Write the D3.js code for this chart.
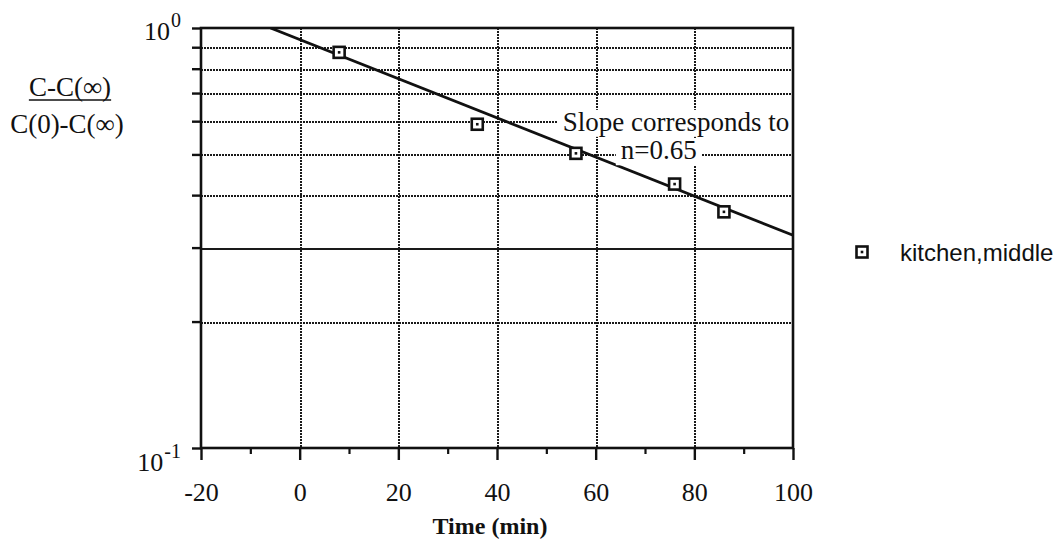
<!DOCTYPE html>
<html>
<head>
<meta charset="utf-8">
<script src="https://cdn.jsdelivr.net/npm/d3@7"></script>
<style>
  html, body { margin: 0; padding: 0; background: #fff; }
  svg { display: block; }
  .serif { font-family: "Liberation Serif", "Times New Roman", serif; fill: #111; }
  .sans { font-family: "Liberation Sans", Arial, sans-serif; fill: #111; }
</style>
</head>
<body>
<svg id="chart" width="1063" height="540"></svg>
<script>
// Measured decay of the normalised concentration, kitchen (middle position)
const time = [8, 36, 56, 76, 86];                 // min
const ratio = [0.875, 0.59, 0.503, 0.425, 0.365]; // (C - C(inf)) / (C(0) - C(inf))

// Fitted exponential decay (straight line on the log axis)
const fitTime = [-5.9, 100];
const fitRatio = [1.0, 0.321];

// Axis ticks
const xTicks = [-20, 0, 20, 40, 60, 80, 100];
const xMinorTicks = [-10, 10, 30, 50, 70, 90];
const yGridValues = [0.2, 0.3, 0.4, 0.5, 0.6, 0.7, 0.8, 0.9];
const yDecades = [0.1, 1];
const yDecadeExponents = ["-1", "0"];

const seriesName = "kitchen,middle";
const noteLines = ["Slope corresponds to", "n=0.65"];
const noteTime = [76.3, 72.8];
const noteRatio = [0.569, 0.487];

const svg = d3.select("#chart");
const x = d3.scaleLinear().domain([-20, 100]).range([201, 793]);
const y = d3.scaleLog().domain([0.1, 1]).range([448, 28]);
const [x0, x1] = x.range();
const [yBot, yTop] = y.range();

// Horizontal grid lines (dotted, except the solid 0.3 line)
const grid = svg.append("g").attr("shape-rendering", "crispEdges");
grid.selectAll("line.h").data(yGridValues).join("line")
  .attr("x1", x0).attr("x2", x1)
  .attr("y1", d => Math.round(y(d)) + 0.5).attr("y2", d => Math.round(y(d)) + 0.5)
  .attr("stroke", "#1a1a1a")
  .attr("stroke-width", 2)
  .attr("stroke-dasharray", d => d === 0.3 ? null : "2,1");

// Vertical grid lines
grid.selectAll("line.v").data(xTicks.slice(1, -1)).join("line")
  .attr("x1", d => Math.round(x(d)) + 0.5).attr("x2", d => Math.round(x(d)) + 0.5)
  .attr("y1", yTop).attr("y2", yBot)
  .attr("stroke", "#1a1a1a")
  .attr("stroke-width", 2)
  .attr("stroke-dasharray", "2,1");

// Bottom axis with major and minor ticks
const xAxis = svg.append("g").attr("transform", `translate(0,${yBot})`)
  .call(d3.axisBottom(x).tickValues(xTicks).tickSize(12).tickFormat(d => String(d)));
xAxis.select(".domain").remove();
xAxis.selectAll(".tick line").attr("stroke", "#111").attr("stroke-width", 2.4);
xAxis.selectAll(".tick text")
  .attr("class", "serif")
  .attr("y", 53).attr("dy", 0)
  .style("font-size", "26px")
  .attr("fill", "#111");

const xMinor = svg.append("g").attr("transform", `translate(0,${yBot})`)
  .call(d3.axisBottom(x).tickValues(xMinorTicks).tickSize(6).tickFormat(""));
xMinor.select(".domain").remove();
xMinor.selectAll(".tick line").attr("stroke", "#111").attr("stroke-width", 2.2);

// Left axis ticks
const yAxis = svg.append("g").attr("transform", `translate(${x0},0)`)
  .call(d3.axisLeft(y).tickValues(yGridValues.concat(yDecades)).tickSize(9).tickFormat(""));
yAxis.select(".domain").remove();
yAxis.selectAll(".tick line").attr("stroke", "#111").attr("stroke-width", 2.4);

// Decade labels 10^n
yDecades.forEach((v, i) => {
  const t = svg.append("text").attr("class", "serif")
    .attr("x", 181).attr("y", y(v) + (v === 1 ? 12 : 23))
    .attr("text-anchor", "end")
    .style("font-size", "26px");
  t.append("tspan").text("10");
  t.append("tspan").text(yDecadeExponents[i])
    .attr("dx", 1).attr("dy", -13).style("font-size", "20px");
});

// Fitted line
svg.append("defs").append("clipPath").attr("id", "plotClip")
  .append("rect").attr("x", x0).attr("y", yTop)
  .attr("width", x1 - x0).attr("height", yBot - yTop);
const fitPts = fitTime.map((t, i) => [t, fitRatio[i]]);
svg.append("path")
  .attr("clip-path", "url(#plotClip)")
  .attr("d", d3.line().x(d => x(d[0])).y(d => y(d[1]))(fitPts))
  .attr("fill", "none").attr("stroke", "#111").attr("stroke-width", 2.8);

// Annotation with white backing boxes
const note = svg.append("g");
noteLines.forEach((s, i) => {
  const g = note.append("g");
  const bg = g.append("rect").attr("fill", "#fff");
  const t = g.append("text").attr("class", "serif")
    .attr("x", x(noteTime[i])).attr("y", y(noteRatio[i]))
    .attr("text-anchor", "middle")
    .style("font-size", "27px")
    .text(s);
  const b = t.node().getBBox();
  bg.attr("x", b.x - 5).attr("y", b.y + 3)
    .attr("width", b.width + 10).attr("height", b.height - 3);
});

// Frame drawn over the grid and the annotation boxes
svg.append("rect")
  .attr("x", x0).attr("y", yTop)
  .attr("width", x1 - x0).attr("height", yBot - yTop)
  .attr("fill", "none").attr("stroke", "#111").attr("stroke-width", 2.6);

// Data markers: open squares with a centre dot
const markers = svg.append("g");
const pts = time.map((t, i) => [t, ratio[i]]);
function square(sel) {
  sel.append("rect")
    .attr("x", -5.5).attr("y", -5.5).attr("width", 11).attr("height", 11)
    .attr("fill", "#fff").attr("stroke", "#111").attr("stroke-width", 2.6);
  sel.append("rect")
    .attr("x", -1.3).attr("y", -1.3).attr("width", 2.6).attr("height", 2.6)
    .attr("fill", "#111");
}
markers.selectAll("g").data(pts).join("g")
  .attr("transform", d => `translate(${x(d[0])},${y(d[1])})`)
  .call(square);

// Axis titles
const yTitle = svg.append("g");
const num = yTitle.append("text").attr("class", "serif")
  .attr("x", 70).attr("y", 96).attr("text-anchor", "middle")
  .style("font-size", "27px").text("C-C(\u221E)");
const nb = num.node().getBBox();
yTitle.append("line")
  .attr("x1", nb.x).attr("x2", nb.x + nb.width)
  .attr("y1", 100).attr("y2", 100)
  .attr("stroke", "#111").attr("stroke-width", 1.6);
yTitle.append("text").attr("class", "serif")
  .attr("x", 67).attr("y", 133).attr("text-anchor", "middle")
  .style("font-size", "27px").text("C(0)-C(\u221E)");

svg.append("text").attr("class", "serif")
  .attr("x", 490).attr("y", 534).attr("text-anchor", "middle")
  .style("font-size", "24px").style("font-weight", "bold")
  .text("Time (min)");

// Legend
const legend = svg.append("g").attr("transform", "translate(862,252)");
legend.append("g").call(square);
legend.append("text").attr("class", "sans")
  .attr("x", 38).attr("y", 9)
  .style("font-size", "24px")
  .text(seriesName);
</script>
</body>
</html>
